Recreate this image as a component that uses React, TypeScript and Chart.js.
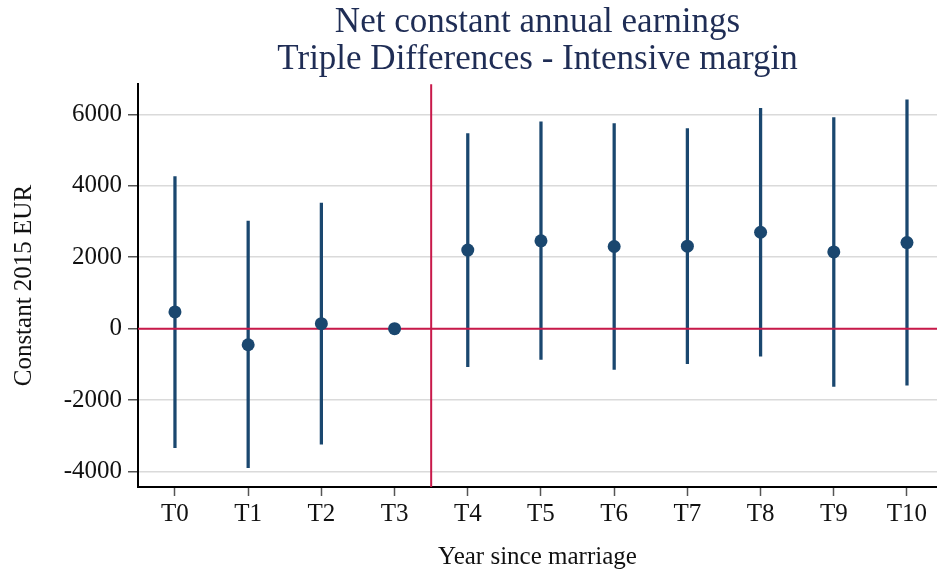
import React, { useEffect, useRef } from "react";
import { Chart, registerables } from "chart.js";

Chart.register(...registerables);

const categories = ["T0", "T1", "T2", "T3", "T4", "T5", "T6", "T7", "T8", "T9", "T10"];
const estimates = [470, -450, 140, 0, 2200, 2460, 2300, 2310, 2700, 2150, 2410];
const ciLower: (number | null)[] = [-3330, -3890, -3235, null, -1066, -860, -1140, -982, -767, -1617, -1580];
const ciUpper: (number | null)[] = [4255, 3010, 3515, null, 5460, 5788, 5741, 5601, 6171, 5909, 6405];
const yTicks = [-4000, -2000, 0, 2000, 4000, 6000];
const titleLines = ["Net constant annual earnings", "Triple Differences - Intensive margin"];
const yTitle = "Constant 2015 EUR";
const xTitle = "Year since marriage";
const eventLineX = 3.5;
const zeroLineY = 0;

const NAVY = "#1a476f";
const RED = "#c8194a";
const FONT = "'Liberation Serif', 'Times New Roman', serif";

export default function App() {
  const ref = useRef<HTMLCanvasElement | null>(null);

  useEffect(() => {
    document.body.style.margin = "0";
    const canvas = ref.current;
    if (!canvas) return;

    const points = categories.map((_, i) => ({ x: i, y: estimates[i] }));
    const bars = categories
      .map((_, i) => (ciLower[i] === null || ciUpper[i] === null ? null : { x: i, y: [ciLower[i], ciUpper[i]] }))
      .filter((d) => d !== null);

    const chart = new Chart(canvas, {
      type: "bar",
      data: {
        datasets: [
          {
            type: "scatter",
            label: "Estimate",
            data: points,
            backgroundColor: NAVY,
            borderColor: NAVY,
            borderWidth: 0,
            pointRadius: 6.5,
            order: 0,
          } as any,
          {
            type: "line",
            label: "zero",
            data: [
              { x: -5, y: zeroLineY },
              { x: 20, y: zeroLineY },
            ],
            borderColor: RED,
            borderWidth: 2,
            pointRadius: 0,
            order: 1,
          } as any,
          {
            type: "line",
            label: "event",
            data: [
              { x: eventLineX, y: -100000 },
              { x: eventLineX, y: 100000 },
            ],
            borderColor: RED,
            borderWidth: 2,
            pointRadius: 0,
            order: 1,
          } as any,
          {
            type: "bar",
            label: "CI",
            data: bars as any,
            backgroundColor: NAVY,
            barThickness: 2.6,
            order: 2,
          } as any,
        ],
      },
      options: {
        responsive: false,
        animation: false,
        devicePixelRatio: 1,
        layout: { autoPadding: false, padding: { left: 0, right: 0, top: 0, bottom: 0 } },
        plugins: {
          legend: { display: false },
          tooltip: { enabled: false },
          title: {
            display: true,
            text: titleLines,
            color: "#1f2d55",
            fullSize: false,
            font: { family: FONT, size: 35, weight: "normal", lineHeight: 1.06 },
            padding: { top: 4, bottom: 6 },
          },
        },
        scales: {
          x: {
            type: "linear",
            min: -0.505,
            max: 10.41,
            offset: false,
            afterBuildTicks: (s: any) => {
              s.ticks = categories.map((_, i) => ({ value: i }));
            },
            afterFit: (s: any) => {
              s.height = 85;
              s.paddingLeft = 0;
              s.paddingRight = 0;
            },
            ticks: {
              color: "#111",
              padding: 3,
              font: { family: FONT, size: 25 },
              callback: (v: any) => categories[Math.round(Number(v))] ?? "",
              maxRotation: 0,
              autoSkip: false,
            },
            grid: {
              offset: false,
              drawOnChartArea: false,
              drawTicks: true,
              tickLength: 9,
              tickColor: "#555",
              tickWidth: 1.5,
            },
            border: { display: true, color: "#000", width: 2 },
            title: {
              display: true,
              text: xTitle,
              color: "#111",
              font: { family: FONT, size: 25 },
              padding: { top: 0, bottom: 0 },
            },
          },
          y: {
            type: "linear",
            min: -4432,
            max: 6844,
            afterBuildTicks: (s: any) => {
              s.ticks = yTicks.map((v) => ({ value: v }));
            },
            afterFit: (s: any) => {
              s.width = 138;
              s.paddingTop = 0;
              s.paddingBottom = 0;
            },
            ticks: {
              color: "#111",
              padding: 6,
              font: { family: FONT, size: 25 },
              callback: (v: any) => String(v),
            },
            grid: {
              color: "#dadada",
              lineWidth: 1.5,
              drawTicks: true,
              tickLength: 10,
              tickColor: "#555",
              tickWidth: 1.5,
            },
            border: { display: true, color: "#000", width: 2 },
            title: {
              display: true,
              text: yTitle,
              color: "#111",
              font: { family: FONT, size: 25 },
              padding: { top: 9.6, bottom: 0 },
            },
          },
        },
      } as any,
    });

    return () => chart.destroy();
  }, []);

  return (
    <div style={{ width: 937, height: 572, background: "#fff" }}>
      <canvas ref={ref} width={937} height={572} style={{ display: "block" }} />
    </div>
  );
}
